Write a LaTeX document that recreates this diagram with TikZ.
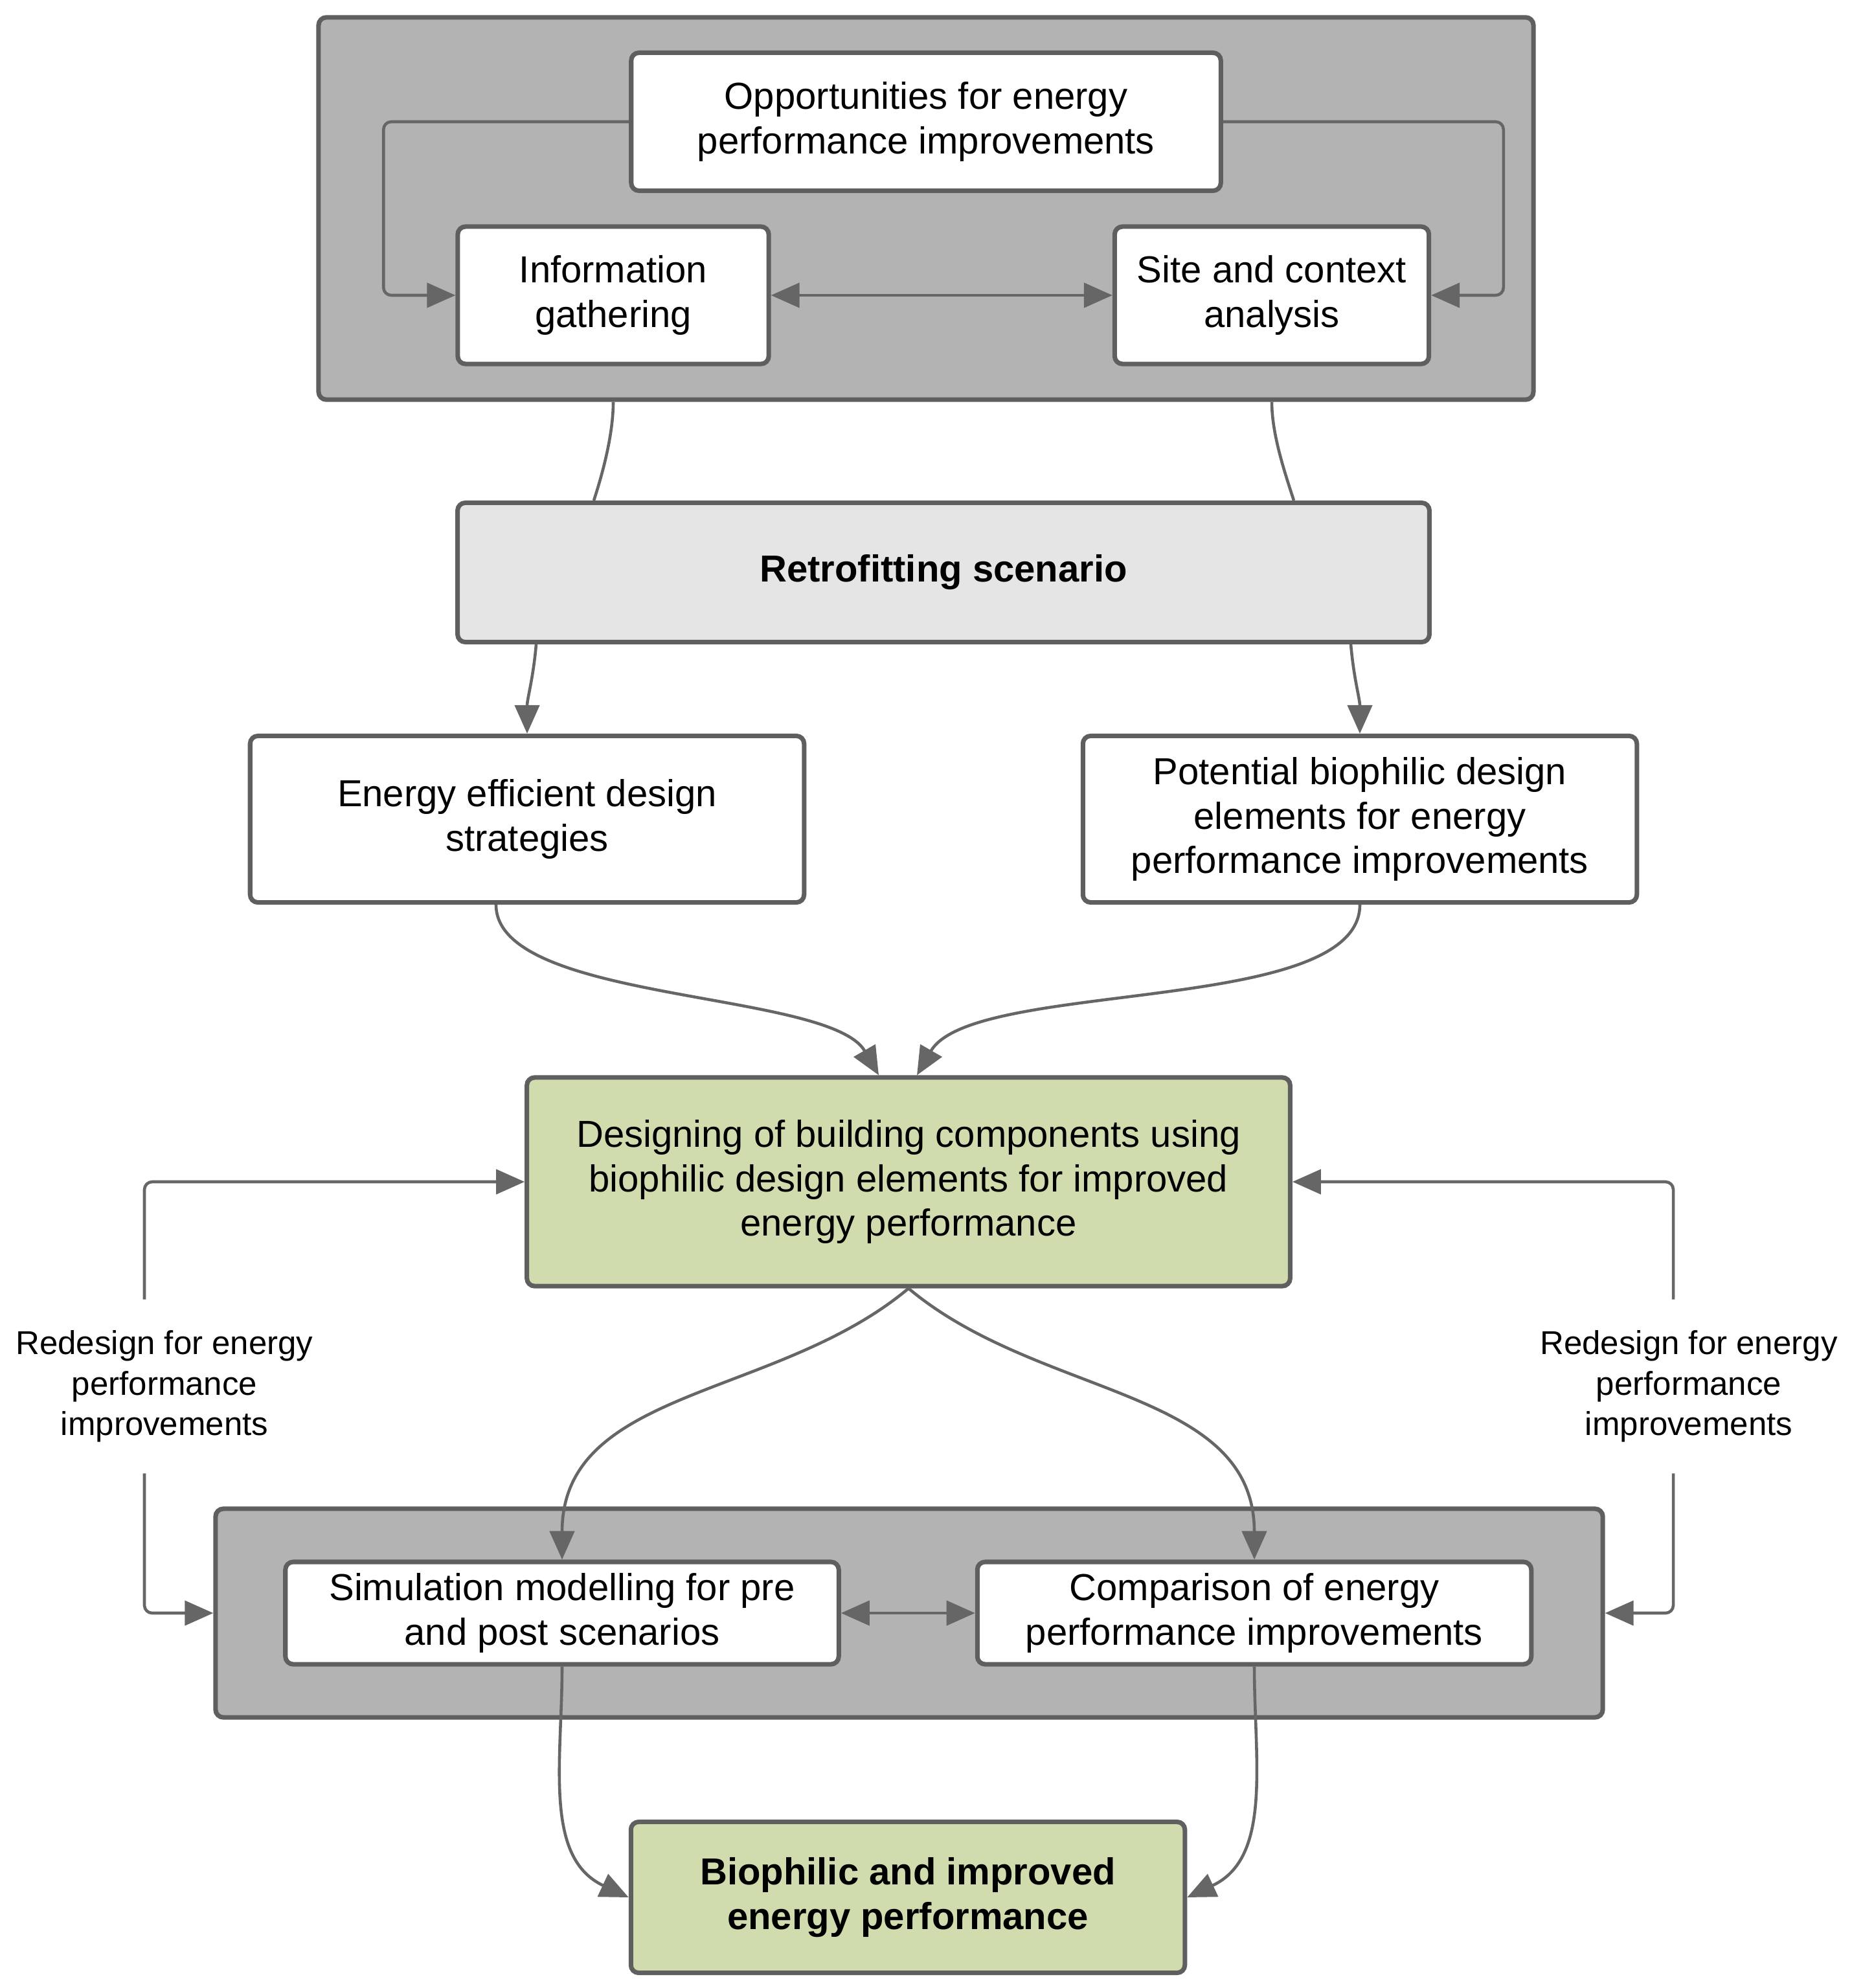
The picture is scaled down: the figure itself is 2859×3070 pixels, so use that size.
\documentclass[tikz,border=0pt]{standalone}
\usepackage{fontspec}
\setmainfont{Liberation Sans}
\usetikzlibrary{arrows.meta, positioning, calc}

\definecolor{grpgray}{HTML}{B3B3B3}
\definecolor{edgegray}{HTML}{5F5F5F}
\definecolor{linegray}{HTML}{666666}
\definecolor{retrogray}{HTML}{E5E5E5}
\definecolor{biogreen}{HTML}{D0DBAE}

\newcommand{\boxfont}{\fontsize{16.5}{19.4}\selectfont}
\newcommand{\notefont}{\fontsize{14.5}{17.8}\selectfont}

\begin{document}
\begin{tikzpicture}[
	x=0.01cm, y=0.01cm,
	>={Triangle[length=0.44cm,width=0.38cm]},
	box/.style={draw=edgegray, line width=2pt, rounded corners=0.12cm,
		fill=white, align=center, inner sep=0pt, font=\boxfont},
	group/.style={box, fill=grpgray},
	boldbox/.style={box, font=\boxfont\bfseries},
	link/.style={draw=linegray, line width=1.3pt},
	note/.style={align=center, inner sep=0pt, font=\notefont,
		minimum height=2.67cm}
]
\useasboundingbox (0,0) rectangle (2859,-3070);

% groups
\node[group, minimum width=18.75cm, minimum height=5.9cm] (topgrp) at (1430,-322) {};
\node[group, minimum width=21.41cm, minimum height=3.22cm] (botgrp) at (1404,-2491) {};

% boxes
\node[box, minimum width=9.1cm, minimum height=2.13cm] (opp) at (1430,-188) {Opportunities for energy\\performance improvements};
\node[box, minimum width=4.8cm, minimum height=2.12cm] (info) at (947,-456) {Information\\gathering};
\node[box, minimum width=4.85cm, minimum height=2.12cm] (site) at (1964,-456) {Site and context\\analysis};
\node[boldbox, fill=retrogray, minimum width=15cm, minimum height=2.15cm] (retro) at (1457,-884) {Retrofitting scenario};
\node[box, minimum width=8.55cm, minimum height=2.57cm] (eff) at (814,-1265) {Energy efficient design\\strategies};
\node[box, minimum width=8.55cm, minimum height=2.57cm] (bio) at (2100,-1265) {Potential biophilic design\\elements for energy\\performance improvements};
\node[box, fill=biogreen, minimum width=11.78cm, minimum height=3.22cm] (design) at (1403,-1825) {Designing of building components using\\biophilic design elements for improved\\energy performance};
\node[box, minimum width=8.54cm, minimum height=1.58cm] (sim) at (868,-2491) {Simulation modelling for pre\\and post scenarios};
\node[box, minimum width=8.55cm, minimum height=1.58cm] (comp) at (1937,-2491) {Comparison of energy\\performance improvements};
\node[boldbox, fill=biogreen, minimum width=8.55cm, minimum height=2.33cm] (final) at (1402,-2930) {Biophilic and improved\\energy performance};

\node[note] (redL) at (254,-2141) {Redesign for energy\\performance\\improvements};
\node[note] (redR) at (2608,-2141) {Redesign for energy\\performance\\improvements};

% top group
\draw[link,->,rounded corners=0.12cm] (opp.west) -- ($(opp.west)+(-379,0)$) |- (info.west);
\draw[link,->,rounded corners=0.12cm] (opp.east) -- ($(opp.east)+(433,0)$) |- (site.east);
\draw[link,<->] (info) -- (site);

\draw[link] (info |- topgrp.south) to[out=-90,in=72,looseness=0.8] ($(retro.north)+(-540,0)$);
\draw[link] (site |- topgrp.south) to[out=-90,in=108,looseness=0.8] ($(retro.north)+(541,0)$);

\draw[link,->] ($(retro.south)+(-629,0)$) to[out=-95,in=90] (eff.north);
\draw[link,->] ($(retro.south)+(629,0)$) to[out=-85,in=90] (bio.north);

\draw[link,->] ($(eff.south)+(-48,0)$) to[out=-90,in=120,looseness=0.6] ($(design.north)+(-46,0)$);
\draw[link,->] (bio.south) to[out=-90,in=60,looseness=0.6] ($(design.north)+(13,0)$);

% redesign loops
\draw[link,->,rounded corners=0.12cm] ($(redL.north)+(-31,0)$) |- (design.west);
\draw[link,->,rounded corners=0.12cm] ($(redL.south)+(-31,0)$) |- (botgrp.west);
\draw[link,->,rounded corners=0.12cm] ($(redR.north)+(-24,0)$) |- (design.east);
\draw[link,->,rounded corners=0.12cm] ($(redR.south)+(-24,0)$) |- (botgrp.east);

% bottom group
\draw[link,->] (design.south) to[out=-140,in=90] (sim.north);
\draw[link,->] (design.south) to[out=-40,in=90] (comp.north);
\draw[link,<->] (sim) -- (comp);

\draw[link,->] (sim.south) to[out=-90,in=155] (final.west);
\draw[link,->] (comp.south) to[out=-90,in=25] (final.east);
\end{tikzpicture}
\end{document}
